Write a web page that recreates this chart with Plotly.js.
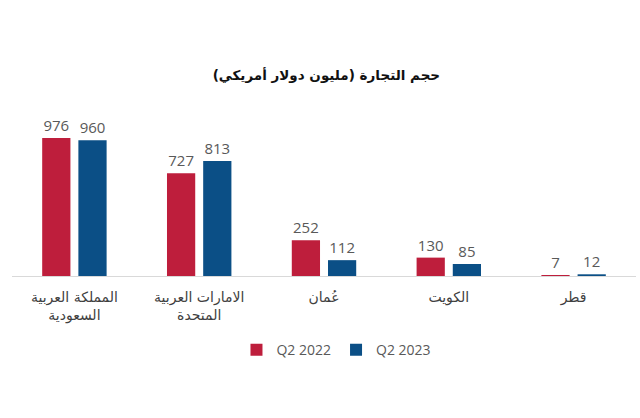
<!DOCTYPE html>
<html>
<head>
<meta charset="utf-8">
<script src="https://cdn.plot.ly/plotly-3.0.1.min.js"></script>
<style>
  html, body { margin: 0; padding: 0; background: #fff; }
  #chart { width: 640px; height: 418px; }
</style>
</head>
<body>
<div id="chart"></div>
<script>
// Trade volume by country (million USD)
const countries = ['المملكة العربية<br>السعودية', 'الامارات العربية<br>المتحدة', 'عُمان', 'الكويت', 'قطر'];
const q2_2022 = [976, 727, 252, 130, 7];
const q2_2023 = [960, 813, 112, 85, 12];

const baseFont = 'Open Sans, DejaVu Sans, sans-serif';

const traces = [
    {
        type: 'bar',
        name: 'Q2 2022',
        x: countries,
        y: q2_2022,
        text: q2_2022.map(String),
        textposition: 'outside',
        textfont: { size: 15, color: '#595959', family: baseFont },
        cliponaxis: false,
        marker: { color: '#BE1E3C' }
    },
    {
        type: 'bar',
        name: 'Q2 2023',
        x: countries,
        y: q2_2023,
        text: q2_2023.map(String),
        textposition: 'outside',
        textfont: { size: 15, color: '#595959', family: baseFont },
        cliponaxis: false,
        marker: { color: '#0B4F86' }
    }
];

const layout = {
    width: 640,
    height: 418,
    margin: { t: 95, b: 142, l: 12, r: 4 },
    paper_bgcolor: '#fff',
    plot_bgcolor: '#fff',
    font: { family: baseFont, color: '#404040' },
    title: {
        text: '<b>حجم التجارة (مليون دولار أمريكي)</b>',
        font: { size: 13.5, color: '#111', family: 'DejaVu Sans, sans-serif' },
        x: 0.51,
        xanchor: 'center',
        y: 0.82,
        yanchor: 'middle'
    },
    barmode: 'group',
    bargap: 0.42,
    bargroupgap: 0.22,
    xaxis: {
        showgrid: false,
        showline: true,
        linecolor: '#d9d9d9',
        linewidth: 1,
        ticks: '',
        ticklabelstandoff: 8,
        tickfont: { size: 14, color: '#404040', family: 'DejaVu Sans, sans-serif' }
    },
    yaxis: {
        range: [0, 1280],
        visible: false,
        showgrid: false,
        zeroline: false
    },
    showlegend: true,
    legend: {
        orientation: 'h',
        x: 0.52,
        xanchor: 'center',
        y: -0.41,
        yanchor: 'middle',
        font: { size: 14, color: '#595959', family: baseFont },
        itemwidth: 30
    }
};

Plotly.newPlot('chart', traces, layout, { staticPlot: true });
</script>
</body>
</html>
